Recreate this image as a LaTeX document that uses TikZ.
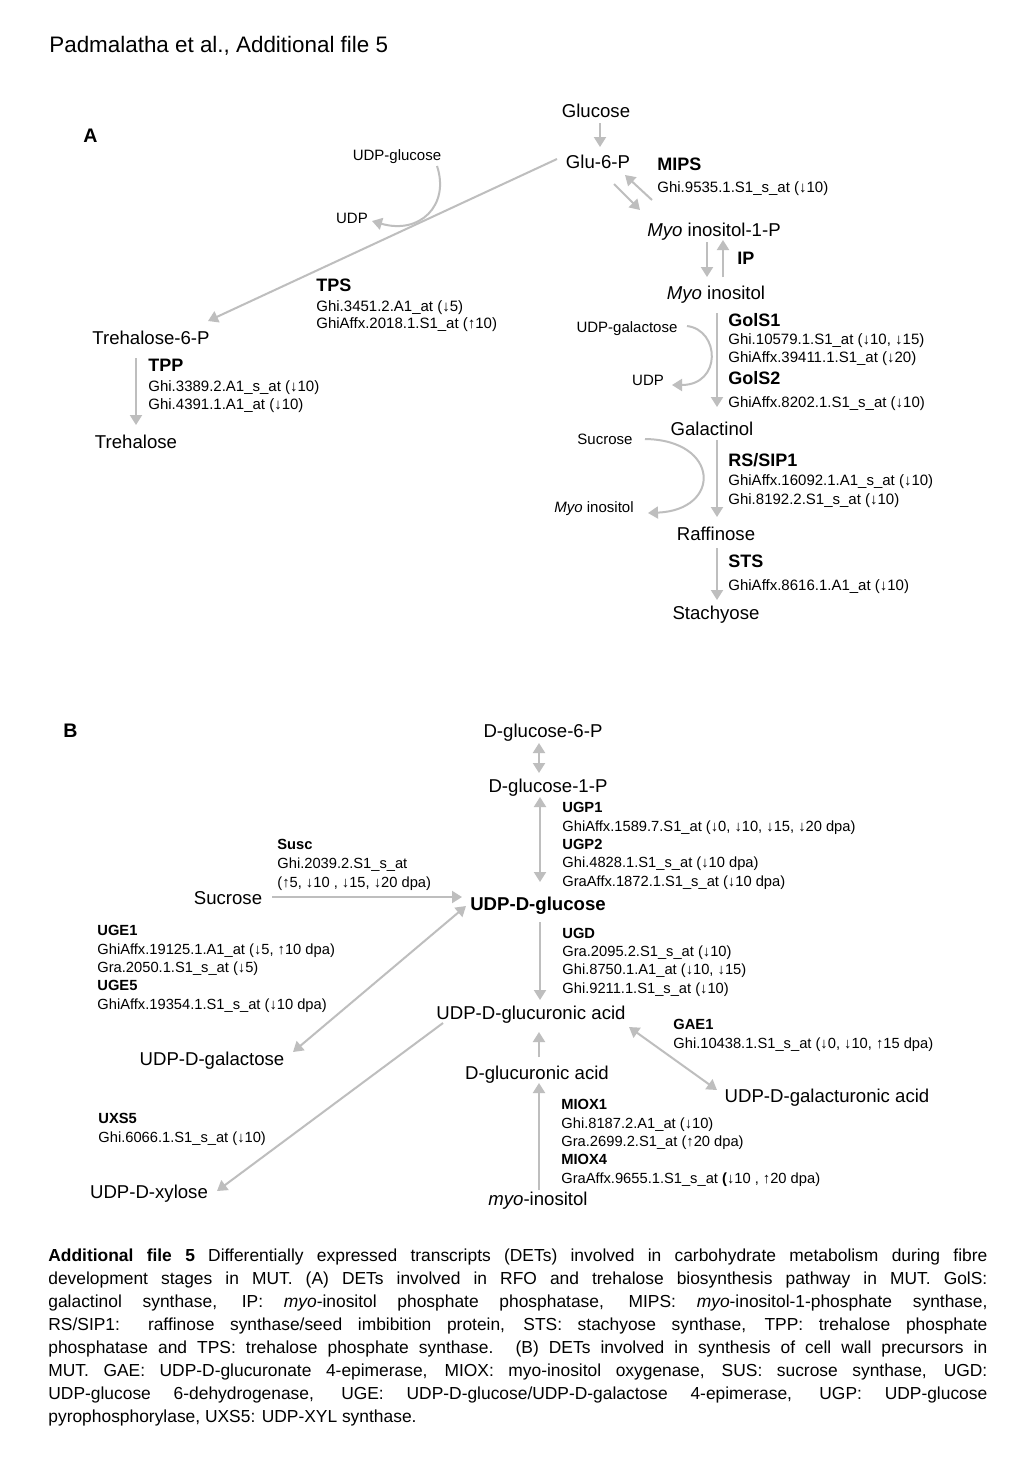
\documentclass[tikz,border=0pt]{standalone}
\usepackage{fontspec}
\setmainfont{Liberation Sans}
\usetikzlibrary{arrows.meta}
\definecolor{arrowgray}{RGB}{190,190,190}

\begin{document}
\begin{tikzpicture}[x=0.5pt,y=-0.5pt,
  flow/.style={draw=arrowgray,line width=1pt,-{Triangle[length=5pt,width=6pt]}},
  both/.style={flow,{Triangle[length=5pt,width=6pt]}-{Triangle[length=5pt,width=6pt]}},
  chem/.style={inner sep=0pt,anchor=base,font=\fontsize{9.3}{11}\selectfont},
  side/.style={inner sep=0pt,anchor=base,font=\fontsize{7.5}{9}\selectfont},
  enzA/.style={inner sep=0pt,anchor=base west,font=\fontsize{9}{11}\selectfont\bfseries},
  probeA/.style={inner sep=0pt,anchor=base west,align=left,font=\fontsize{7.5}{9}\selectfont},
  probeB/.style={inner sep=0pt,anchor=base west,align=left,font=\fontsize{7.35}{9.15}\selectfont}]
  \fill[white] (0,0) rectangle (1024,1479);
  \useasboundingbox (0,0) rectangle (1024,1479);
  \node[anchor=base west,inner sep=0pt,font=\fontsize{11.2}{13}\selectfont] (title) at (49,52) {Padmalatha et al., Additional file 5};

  % panel A
  \node[anchor=base west,inner sep=0pt,font=\fontsize{9.8}{12}\selectfont\bfseries] (labA) at (83,142) {A};
  \node[chem] (glc) at (596,117) {Glucose};
  \node[chem] (g6p) at (598,168) {Glu-6-P};
  \node[chem] (mi1p) at (714,236) {\textit{Myo} inositol-1-P};
  \node[chem] (mino) at (716,299) {\textit{Myo} inositol};
  \node[chem] (galol) at (712,435) {Galactinol};
  \node[chem] (raf) at (716,540) {Raffinose};
  \node[chem] (sta) at (716,619) {Stachyose};
  \node[chem] (t6p) at (151,344) {Trehalose-6-P};
  \node[chem] (tre) at (136,448) {Trehalose};
  \node[side] (udpglc) at (397,160) {UDP-glucose};
  \node[side] (udpA) at (352,223) {UDP};
  \node[side] (udpgal) at (627,332) {UDP-galactose};
  \node[side] (udpB) at (648,385) {UDP};
  \node[side] (sucA) at (605,444) {Sucrose};
  \node[side] (minoB) at (594,512) {\textit{Myo} inositol};

  \node[enzA] (mips) at (657,170) {MIPS};
  \node[probeA] (mipsg) at (657,192) {Ghi.9535.1.S1\_s\_at (↓10)};
  \node[enzA] (ip) at (737,264) {IP};
  \node[enzA] (tps) at (316,291) {TPS};
  \node[probeA,font=\fontsize{7.5}{8.2}\selectfont] (tpsg) at (316,328) {Ghi.3451.2.A1\_at (↓5)\\GhiAffx.2018.1.S1\_at (↑10)};
  \node[enzA] (tpp) at (148,371) {TPP};
  \node[probeA] (tppg) at (148,409) {Ghi.3389.2.A1\_s\_at (↓10)\\Ghi.4391.1.A1\_at (↓10)};
  \node[enzA] (gols1) at (728,326) {GolS1};
  \node[probeA] (gols1g) at (728,362) {Ghi.10579.1.S1\_at (↓10, ↓15)\\GhiAffx.39411.1.S1\_at (↓20)};
  \node[enzA] (gols2) at (728,384) {GolS2};
  \node[probeA] (gols2g) at (728,407) {GhiAffx.8202.1.S1\_s\_at (↓10)};
  \node[enzA] (rs) at (728,466) {RS/SIP1};
  \node[probeA,font=\fontsize{7.5}{9.4}\selectfont] (rsg) at (728,504) {GhiAffx.16092.1.A1\_s\_at (↓10)\\Ghi.8192.2.S1\_s\_at (↓10)};
  \node[enzA] (sts) at (728,567) {STS};
  \node[probeA] (stsg) at (728,590) {GhiAffx.8616.1.A1\_at (↓10)};

  \draw[flow] ([shift={(4,6)}]glc.base) -- ([shift={(2,-21)}]g6p.base);
  \draw[flow] ([shift={(16,16)}]g6p.base) -- ([shift={(-74,-26)}]mi1p.base);
  \draw[flow] ([shift={(-62,-36)}]mi1p.base) -- ([shift={(27,7)}]g6p.base);
  \draw[flow] ([shift={(-7,6)}]mi1p.base) -- ([shift={(-9,-22)}]mino.base);
  \draw[flow] ([shift={(7,-22)}]mino.base) -- ([shift={(9,4)}]mi1p.base);
  \draw[flow] ([shift={(1,14)}]mino.base) -- ([shift={(5,-28)}]galol.base);
  \draw[flow] ([shift={(5,5)}]galol.base) -- ([shift={(1,-23)}]raf.base);
  \draw[flow] ([shift={(1,8)}]raf.base) -- ([shift={(1,-19)}]sta.base);
  \draw[flow] ([shift={(-41,-9)}]g6p.base) -- ([shift={(57,-23)}]t6p.base);
  \draw[flow] ([shift={(-15,14)}]t6p.base) -- ([shift={(0,-23)}]tre.base);
  \draw[flow] ([shift={(40,6)}]udpglc.base) .. controls (450,205) and (420,235) .. ([shift={(20,-2)}]udpA.base);
  \draw[flow] ([shift={(60,-6)}]udpgal.base) .. controls (720,330) and (722,385) .. ([shift={(24,0)}]udpB.base);
  \draw[flow] ([shift={(40,-5)}]sucA.base) .. controls (720,440) and (722,510) .. ([shift={(54,1)}]minoB.base);

  % panel B
  \node[anchor=base west,inner sep=0pt,font=\fontsize{9.8}{12}\selectfont\bfseries] (labB) at (63,737) {B};
  \node[chem] (dg6p) at (543,737) {D-glucose-6-P};
  \node[chem] (dg1p) at (548,792) {D-glucose-1-P};
  \node[chem] (udpg) at (538,910) {\textbf{UDP-D-glucose}};
  \node[chem] (suc) at (228,904) {Sucrose};
  \node[chem] (udpgla) at (531,1019) {UDP-D-glucuronic acid};
  \node[chem] (udpgal2) at (212,1065) {UDP-D-galactose};
  \node[chem] (dgla) at (537,1079) {D-glucuronic acid};
  \node[chem] (myo) at (538,1205) {\textit{myo}-inositol};
  \node[chem] (udpxyl) at (149,1198) {UDP-D-xylose};
  \node[chem] (udpgaa) at (827,1102) {UDP-D-galacturonic acid};

  \node[probeB,font=\fontsize{7.35}{9.5}\selectfont] (susc) at (277,887) {\textbf{Susc}\\Ghi.2039.2.S1\_s\_at\\(↑5, ↓10 , ↓15, ↓20 dpa)};
  \node[probeB] (ugp) at (562,886) {\textbf{UGP1}\\GhiAffx.1589.7.S1\_at (↓0, ↓10, ↓15, ↓20 dpa)\\\textbf{UGP2}\\Ghi.4828.1.S1\_s\_at (↓10 dpa)\\GraAffx.1872.1.S1\_s\_at (↓10 dpa)};
  \node[probeB] (ugd) at (562,993) {\textbf{UGD}\\Gra.2095.2.S1\_s\_at (↓10)\\Ghi.8750.1.A1\_at (↓10, ↓15)\\Ghi.9211.1.S1\_s\_at (↓10)};
  \node[probeB] (uge) at (97,1009) {\textbf{UGE1}\\GhiAffx.19125.1.A1\_at (↓5, ↑10 dpa)\\Gra.2050.1.S1\_s\_at (↓5)\\\textbf{UGE5}\\GhiAffx.19354.1.S1\_s\_at (↓10 dpa)};
  \node[probeB] (gae) at (673,1048) {\textbf{GAE1}\\Ghi.10438.1.S1\_s\_at (↓0, ↓10, ↑15 dpa)};
  \node[probeB] (uxs) at (98,1142) {\textbf{UXS5}\\Ghi.6066.1.S1\_s\_at (↓10)};
  \node[probeB] (miox) at (561,1183) {\textbf{MIOX1}\\Ghi.8187.2.A1\_at (↓10)\\Gra.2699.2.S1\_at (↑20 dpa)\\\textbf{MIOX4}\\GraAffx.9655.1.S1\_s\_at \textbf{(}↓10 , ↑20 dpa)};

  \draw[both] ([shift={(-4,6)}]dg6p.base) -- ([shift={(-4,-19)}]dg1p.base -| dg6p.base);
  \draw[both] ([shift={(-8,5)}]dg1p.base) -- ([shift={(2,-28)}]udpg.base);
  \draw[flow] ([shift={(44,-7)}]suc.base) -- ([shift={(-76,-13)}]udpg.base);
  \draw[both] ([shift={(81,-13)}]udpgal2.base) -- ([shift={(-72,-4)}]udpg.base);
  \draw[flow] ([shift={(2,12)}]udpg.base) -- ([shift={(9,-19)}]udpgla.base);
  \draw[flow] ([shift={(-88,4)}]udpgla.base) -- ([shift={(68,-7)}]udpxyl.base);
  \draw[flow] ([shift={(2,-22)}]dgla.base) -- ([shift={(8,13)}]udpgla.base);
  \draw[flow] ([shift={(1,-15)}]myo.base) -- ([shift={(2,4)}]dgla.base);
  \draw[both] ([shift={(98,8)}]udpgla.base) -- ([shift={(-110,-12)}]udpgaa.base);

  % caption
  \node[anchor=north west,inner sep=0pt,text width=469.5pt,align=justify,
    font=\fontsize{8.7}{11.5}\selectfont] (caption) at (48,1248)
    {\hyphenpenalty=10000\relax\exhyphenpenalty=10000\relax
     \textbf{Additional file 5} Differentially expressed transcripts (DETs) involved in carbohydrate metabolism during fibre\linebreak
     development stages in MUT. (A) DETs involved in RFO and trehalose biosynthesis pathway in MUT. GolS:\linebreak
     galactinol synthase, IP: \textit{myo}-inositol phosphate phosphatase, MIPS: \textit{myo}-inositol-1-phosphate synthase,\linebreak
     RS/SIP1: raffinose synthase/seed imbibition protein, STS: stachyose synthase, TPP: trehalose phosphate\linebreak
     phosphatase and TPS: trehalose phosphate synthase. (B) DETs involved in synthesis of cell wall precursors in\linebreak
     MUT. GAE: UDP-D-glucuronate 4-epimerase, MIOX: myo-inositol oxygenase, SUS: sucrose synthase, UGD:\linebreak
     UDP-glucose 6-dehydrogenase, UGE: UDP-D-glucose/UDP-D-galactose 4-epimerase, UGP: UDP-glucose\linebreak
     pyrophosphorylase, UXS5: UDP-XYL synthase.};
\end{tikzpicture}
\end{document}
